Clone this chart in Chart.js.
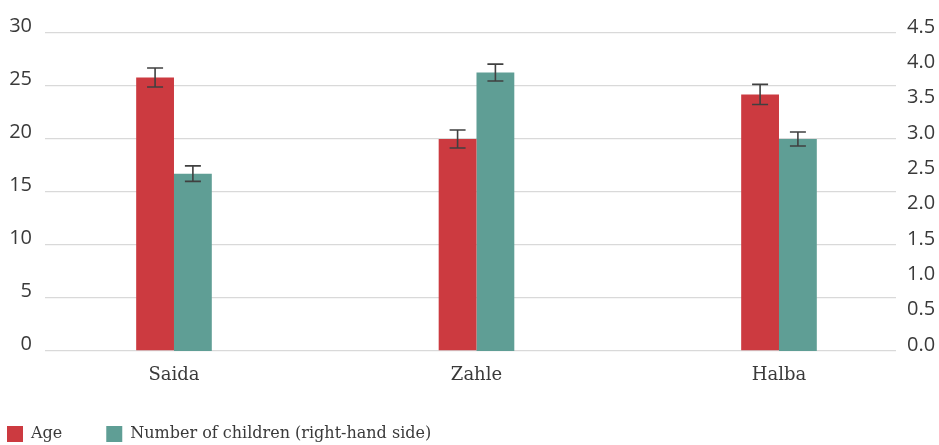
<!DOCTYPE html>
<html>
<head>
<meta charset="utf-8">
<script src="https://cdn.jsdelivr.net/npm/chart.js@4/dist/chart.umd.min.js"></script>
<style>
  html, body { margin: 0; padding: 0; background: #fff; }
  #wrap { width: 939px; height: 445px; }
</style>
</head>
<body>
<div id="wrap"><canvas id="chart"></canvas></div>
<script>
const cities = ['Saida', 'Zahle', 'Halba'];
const ageValues = [25.8, 20.0, 24.2];
const ageErrors = [0.9, 0.85, 0.95];
const childValues = [2.51, 3.94, 3.0];
const childErrors = [0.11, 0.12, 0.1];
const ageTicks = [0, 5, 10, 15, 20, 25, 30];
const childTicks = [0, 0.5, 1, 1.5, 2, 2.5, 3, 3.5, 4, 4.5];

const RED = '#cc3a40';
const TEAL = '#5f9e95';
const TEXT = '#3a3a3a';

const errorBars = {
    id: 'errorBars',
    afterDatasetsDraw(chart) {
        const ctx = chart.ctx;
        ctx.save();
        ctx.strokeStyle = '#404040';
        ctx.lineWidth = 1.6;
        chart.data.datasets.forEach((ds, di) => {
            const meta = chart.getDatasetMeta(di);
            const scale = chart.scales[ds.yAxisID];
            meta.data.forEach((bar, i) => {
                const v = ds.data[i].y;
                const top = scale.getPixelForValue(v + ds.errors[i]);
                const bot = scale.getPixelForValue(v - ds.errors[i]);
                ctx.beginPath();
                ctx.moveTo(bar.x, top);
                ctx.lineTo(bar.x, bot);
                ctx.moveTo(bar.x - 8, top);
                ctx.lineTo(bar.x + 8, top);
                ctx.moveTo(bar.x - 8, bot);
                ctx.lineTo(bar.x + 8, bot);
                ctx.stroke();
            });
        });
        ctx.restore();
    }
};

// legend sits right under the x axis and starts at the left edge
const legendShift = {
    id: 'legendShift',
    afterLayout(chart) {
        if (chart.legend) {
            chart.legend.left -= 37;
            chart.legend.top = chart.scales.x.bottom;
        }
    }
};

new Chart(document.getElementById('chart'), {
    type: 'bar',
    data: {
        datasets: [{
            label: 'Age',
            data: ageValues.map((v, i) => ({ x: i, y: v })),
            errors: ageErrors,
            yAxisID: 'yAge',
            backgroundColor: RED,
            borderWidth: 0
        }, {
            label: 'Number of children (right-hand side)',
            data: childValues.map((v, i) => ({ x: i, y: v })),
            errors: childErrors,
            yAxisID: 'yChild',
            backgroundColor: TEAL,
            borderWidth: 0
        }]
    },
    options: {
        responsive: true,
        maintainAspectRatio: false,
        animation: false,
        categoryPercentage: 0.25,
        barPercentage: 1,
        layout: { padding: { top: 33, left: 0, right: 0, bottom: 0 } },
        scales: {
            x: {
                type: 'linear',
                offset: false,
                min: -0.4264,
                max: 2.3868,
                afterBuildTicks: s => { s.ticks = cities.map((c, i) => ({ value: i })); },
                afterFit: s => { s.height = 31; },
                grid: { display: false, drawTicks: false },
                border: { display: false },
                ticks: {
                    padding: 17,
                    maxRotation: 0,
                    autoSkip: false,
                    color: TEXT,
                    font: { family: 'DejaVu Serif', size: 18, lineHeight: 0.8 },
                    callback: v => cities[v]
                }
            },
            yAge: {
                position: 'left',
                min: 0,
                max: 30,
                afterBuildTicks: s => { s.ticks = ageTicks.map(v => ({ value: v })); },
                afterFit: s => { s.width = 45; },
                grid: { color: '#d9d9d9', lineWidth: 1.3, drawTicks: false },
                border: { display: false },
                ticks: {
                    padding: 13,
                    labelOffset: -7,
                    color: TEXT,
                    font: { family: 'Open Sans', size: 20 }
                }
            },
            yChild: {
                position: 'right',
                min: 0,
                max: 4.5,
                afterBuildTicks: s => { s.ticks = childTicks.map(v => ({ value: v })); },
                afterFit: s => { s.width = 43; },
                grid: { display: false, drawTicks: false },
                border: { display: false },
                ticks: {
                    padding: 11,
                    labelOffset: -6,
                    color: TEXT,
                    font: { family: 'Open Sans', size: 20 },
                    callback: v => v.toFixed(1)
                }
            }
        },
        plugins: {
            legend: {
                position: 'bottom',
                align: 'start',
                maxHeight: 63,
                labels: {
                    boxWidth: 16,
                    boxHeight: 16,
                    padding: 44,
                    color: TEXT,
                    font: { family: 'DejaVu Serif', size: 16 }
                }
            },
            tooltip: { enabled: false }
        }
    },
    plugins: [errorBars, legendShift]
});
</script>
</body>
</html>
